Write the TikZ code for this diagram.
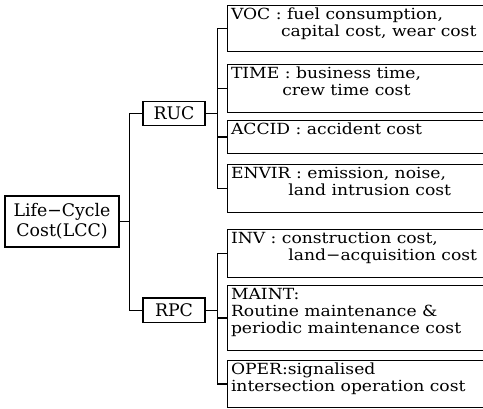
\documentclass[tikz,border=0pt]{standalone}
\usepackage{fontspec}
\setmainfont{DejaVu Serif}
\newfontfamily\leaffont{DejaVu Serif}[FakeStretch=1.12]
\newcommand{\leaftext}[2]{\parbox[c][#1][t]{200pt}{\raggedright #2}}

\begin{document}
\begin{tikzpicture}[x=0.75pt, y=-0.75pt, line width=1pt,
    mainbox/.style={draw, inner sep=0pt, align=center, font=\fontsize{13}{15}\selectfont},
    leafbox/.style={draw, anchor=north west, inner xsep=2.5pt, inner ysep=1.8pt,
        font=\leaffont\fontsize{11.5}{12.75}\selectfont},
    link/.style={line width=1.1pt}]
    \useasboundingbox (0,0) rectangle (483,409);
    \clip (0,0) rectangle (483,409);

    % root
    \node[mainbox, minimum width=85.5pt, minimum height=38.25pt] (lcc) at (62,221.5)
        {Life−Cycle\\Cost(LCC)};

    % cost groups
    \node[mainbox, minimum width=46.5pt, minimum height=17.6pt] (ruc) at (174,113.5) {RUC};
    \node[mainbox, minimum width=46.5pt, minimum height=18.5pt] (rpc) at (174,310.5) {RPC};

    % road user costs
    \node[leafbox] (voc) at (227,5)
        {\leaftext{30.9pt}{VOC : fuel consumption,\\
         \hspace*{37.5pt}capital cost, wear cost}};
    \node[leafbox] (time) at (227,64)
        {\leaftext{32.4pt}{TIME : business time,\\
         \hspace*{38.5pt}crew time cost}};
    \node[leafbox] (accid) at (227,120)
        {\leaftext{21.15pt}{ACCID : accident cost}};
    \node[leafbox] (envir) at (227,164)
        {\leaftext{32.4pt}{ENVIR : emission, noise,\\
         \hspace*{43pt}land intrusion cost}};

    % road agency costs
    \node[leafbox] (inv) at (227,229)
        {\leaftext{32.4pt}{INV : construction cost,\\
         \hspace*{43pt}land−acquisition cost}};
    \node[leafbox] (maint) at (227,285)
        {\leaftext{45.15pt}{MAINT:\\
         Routine maintenance \&\\
         periodic maintenance cost}};
    \node[leafbox] (oper) at (227,360)
        {\leaftext{31.65pt}{OPER:signalised\\
         intersection operation cost}};

    % connectors
    \draw[link] (lcc.east) -- ++(10,0) |- (ruc.west);
    \draw[link] (lcc.east) -- ++(10,0) |- (rpc.west);
    \foreach \leaf in {voc,time,accid,envir}
        \draw[link] (ruc.east) -- ++(12,0) |- (\leaf.west);
    \foreach \leaf in {inv,maint,oper}
        \draw[link] (rpc.east) -- ++(12,0) |- (\leaf.west);
\end{tikzpicture}
\end{document}
